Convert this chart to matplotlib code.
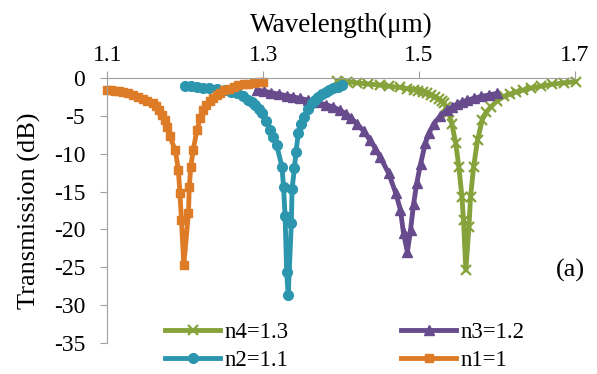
import matplotlib.pyplot as plt

# valores
wl_n1 = [1.100, 1.105, 1.110, 1.115, 1.120, 1.127, 1.133, 1.139, 1.145, 1.151, 1.158, 1.162, 1.166, 1.170,
         1.174, 1.177, 1.180, 1.187, 1.191, 1.193, 1.195, 1.198,
         1.204, 1.205, 1.207, 1.210, 1.215, 1.219, 1.223, 1.227, 1.231, 1.235, 1.240, 1.245, 1.250,
         1.256, 1.262, 1.268, 1.275, 1.281, 1.288, 1.294, 1.300]
t_n1 = [-1.55, -1.6, -1.65, -1.72, -1.8, -2.0, -2.2, -2.45, -2.7, -2.95, -3.3, -3.7, -4.2, -4.8,
        -5.5, -6.5, -7.7, -9.5, -12.1, -15.2, -18.8, -24.7,
        -17.8, -14.4, -11.7, -9.5, -6.8, -5.3, -4.2, -3.5, -3.0, -2.6, -2.2, -1.9, -1.6,
        -1.35, -1.1, -0.95, -0.8, -0.7, -0.6, -0.52, -0.45]

wl_n2 = [1.200, 1.207, 1.215, 1.222, 1.230, 1.240, 1.251, 1.258, 1.266, 1.274, 1.281, 1.286, 1.290, 1.294,
         1.298, 1.303, 1.309, 1.313, 1.317, 1.324, 1.326, 1.328, 1.330, 1.332,
         1.336, 1.337, 1.340, 1.342, 1.345, 1.348, 1.352, 1.357, 1.362, 1.366, 1.370, 1.375, 1.380,
         1.385, 1.390, 1.396, 1.401]
t_n2 = [-1.0, -1.07, -1.15, -1.22, -1.3, -1.42, -1.55, -1.75, -2.0, -2.4, -2.9, -3.2, -3.6, -4.1,
        -4.6, -5.6, -6.8, -7.8, -8.8, -11.7, -14.4, -18.3, -25.6, -28.7,
        -19.2, -14.6, -11.9, -9.7, -7.3, -6.1, -5.1, -4.1, -3.3, -2.9, -2.5, -2.1, -1.8,
        -1.55, -1.3, -1.1, -0.9]

wl_n3 = [1.292, 1.301, 1.310, 1.320, 1.330, 1.338, 1.347, 1.358, 1.370, 1.380, 1.390, 1.398, 1.406, 1.413,
         1.420, 1.429, 1.437, 1.444, 1.450, 1.461, 1.470, 1.476, 1.480, 1.485,
         1.489, 1.493, 1.497, 1.502, 1.508, 1.513, 1.519, 1.527, 1.536, 1.542, 1.549, 1.555, 1.562,
         1.570, 1.580, 1.590, 1.600]
t_n3 = [-1.55, -1.72, -1.9, -2.1, -2.3, -2.45, -2.65, -2.9, -3.2, -3.5, -3.8, -4.2, -4.7, -5.3,
        -6.0, -7.0, -8.2, -9.3, -10.4, -12.6, -15.2, -17.4, -20.5, -23.0,
        -20.1, -16.6, -13.9, -11.3, -8.6, -7.2, -6.0, -5.0, -4.2, -3.8, -3.4, -3.15, -2.9,
        -2.65, -2.4, -2.2, -2.0]

wl_n4 = [1.395, 1.408, 1.420, 1.435, 1.450, 1.462, 1.475, 1.484, 1.493, 1.499, 1.505, 1.510, 1.515, 1.520,
         1.525, 1.529, 1.532, 1.535, 1.538, 1.542, 1.547, 1.551, 1.555, 1.557, 1.560,
         1.564, 1.566, 1.570, 1.575, 1.581, 1.586, 1.592, 1.600, 1.609, 1.617, 1.625, 1.634, 1.643,
         1.656, 1.670, 1.686, 1.701]
t_n4 = [-0.3, -0.45, -0.6, -0.75, -0.9, -1.05, -1.2, -1.35, -1.5, -1.65, -1.8, -2.0, -2.2, -2.45,
        -2.7, -3.0, -3.3, -3.8, -4.5, -6.0, -8.6, -11.7, -15.7, -18.8, -25.4,
        -19.7, -15.7, -11.7, -8.2, -5.5, -4.5, -3.8, -3.0, -2.4, -2.1, -1.8, -1.55, -1.3,
        -1.05, -0.8, -0.6, -0.45]

xticks = [1.1, 1.3, 1.5, 1.7]
yticks = [0, -5, -10, -15, -20, -25, -30, -35]

plt.rcParams['font.family'] = ['Liberation Serif', 'DejaVu Serif']
plt.rcParams['axes.unicode_minus'] = False

fig = plt.figure(figsize=(5.97, 3.74), dpi=100)
ax = fig.add_axes([0.180, 0.084, 0.783, 0.7066])

lw = 3.5
l4, = ax.plot(wl_n4, t_n4, color='#86A23B', lw=lw, marker='x', ms=7, mew=1.6, label='n4=1.3', clip_on=False)
l3, = ax.plot(wl_n3, t_n3, color='#674B8C', lw=lw, marker='^', ms=7, label='n3=1.2', clip_on=False)
l2, = ax.plot(wl_n2, t_n2, color='#2C96AE', lw=lw, marker='o', ms=7, label='n2=1.1', clip_on=False)
l1, = ax.plot(wl_n1, t_n1, color='#DE7B27', lw=lw, marker='s', ms=6, label='n1=1', clip_on=False)

ax.set_xlim(1.1, 1.7)
ax.set_ylim(-35, 0)
ax.set_xticks(xticks)
ax.set_xticklabels(['1.1', '1.3', '1.5', '1.7'])
ax.set_yticks(yticks)
ax.xaxis.tick_top()
ax.xaxis.set_label_position('top')
ax.tick_params(axis='both', labelsize=17, color='#a0a0a0', length=5, width=0.8)
ax.tick_params(axis='x', pad=4)
ax.tick_params(axis='y', pad=11)

for s in ['right', 'bottom']:
    ax.spines[s].set_visible(False)
for s in ['left', 'top']:
    ax.spines[s].set_color('#a0a0a0')
    ax.spines[s].set_linewidth(0.8)

ax.set_xlabel('Wavelength(μm)', fontsize=19.5, labelpad=9)
ax.set_ylabel('Transmission (dB)', fontsize=19, labelpad=9)

ax.text(1.694, -25.4, '(a)', fontsize=19, ha='center', va='center')

fig.legend([l4, l2, l3, l1], ['n4=1.3', 'n2=1.1', 'n3=1.2', 'n1=1'], ncol=2,
           loc='upper left', bbox_to_anchor=(0.277, 0.14), frameon=False, fontsize=16.5,
           handlelength=2.4, handletextpad=0.2, columnspacing=4.9, labelspacing=0.3,
           borderpad=0, borderaxespad=0)

fig.savefig('out.png', dpi=100)
